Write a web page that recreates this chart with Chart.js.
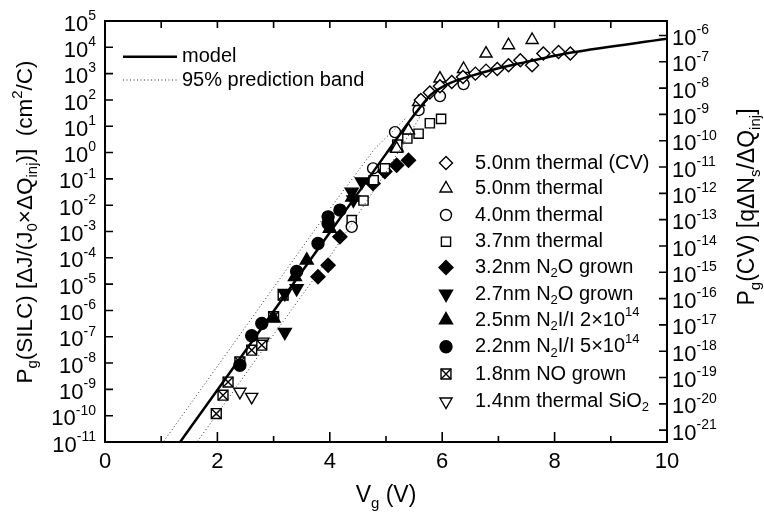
<!DOCTYPE html>
<html>
<head>
<meta charset="utf-8">
<script src="https://cdn.jsdelivr.net/npm/chart.js@4.4.1/dist/chart.umd.min.js"></script>
<style>
  html, body { margin: 0; padding: 0; background: #fff; }
</style>
</head>
<body>
<canvas id="myChart" width="764" height="515"></canvas>
<script>
// model line and 95% prediction band (Vg in V, Pg in cm2/C)
var modelV = [1.2, 2, 3, 4, 5, 5.4, 5.6, 5.8, 6.1, 6.5, 7, 7.5, 8, 8.3, 10];
var modelP = [3.9e-12, 9.5e-10, 9.3e-7, 9.1e-4, 0.89, 14, 50, 160, 400, 800, 1600, 2800, 4800, 6300, 21000];
var bandHiV = [0.9, 2, 3, 4, 4.8, 5.35];
var bandHiP = [3.9e-12, 7.6e-9, 7.4e-6, 7.2e-3, 1.4, 20];
var bandLoV = [1.5, 2, 3, 4, 5, 5.6];
var bandLoP = [3.9e-12, 1.2e-10, 1.2e-7, 1.1e-4, 0.18, 22];

// measured points
var cv50V = [5.62, 5.78, 5.96, 6.17, 6.37, 6.59, 6.78, 6.98, 7.18, 7.39, 7.60, 7.80, 8.07, 8.28];
var cv50P = [100, 190, 330, 480, 740, 1000, 1300, 1500, 2100, 3200, 2100, 5800, 6600, 5800];
var th50V = [5.19, 5.40, 5.58, 5.96, 6.38, 6.78, 7.18, 7.60];
var th50P = [1.4, 7, 83, 650, 1500, 5800, 12000, 19000];
var th40V = [4.39, 4.77, 5.16, 5.58, 5.96, 6.38];
var th40P = [1.5e-3, 0.25, 6, 41, 140, 400];
var th37V = [4.39, 4.60, 4.78, 4.98, 5.20, 5.38, 5.58, 5.78, 5.98];
var th37P = [2.7e-3, 1.5e-2, 8.9e-2, 0.25, 2.0, 3.4, 5.2, 13, 19];
var n2o32V = [3.79, 3.97, 4.18, 4.77, 4.98, 5.19, 5.40];
var n2o32P = [1.9e-5, 5.2e-5, 6.3e-4, 6.6e-2, 0.19, 0.33, 0.51];
var n2o27V = [3.20, 3.20, 3.41, 4.39, 4.42, 4.57];
var n2o27P = [1.5e-7, 4.5e-6, 6.9e-6, 3.2e-2, 1.6e-2, 7.8e-2];
var ni25V = [3.0, 3.38, 3.59, 4.0, 4.4, 5.19];
var ni25P = [5e-7, 1.9e-5, 8e-5, 1.3e-3, 2e-2, 1.6];
var ni22V = [2.40, 2.61, 2.79, 3.41, 3.79, 3.97, 3.97, 4.18];
var ni22P = [8.3e-9, 1.1e-7, 3.2e-7, 3.0e-5, 3.5e-4, 3.6e-3, 2.0e-3, 6.5e-3];
var no18V = [1.98, 2.10, 2.19, 2.40, 2.61, 2.79, 3.00, 3.17];
var no18P = [1.2e-10, 6.0e-10, 1.9e-9, 1.1e-8, 3.1e-8, 4.8e-8, 5.8e-7, 3.8e-6];
var sio14V = [2.40, 2.61, 2.81];
var sio14P = [8.1e-10, 5.2e-10, 6.5e-8];

var xLabels = [0, 2, 4, 6, 8, 10];
var leftExps = [5, 4, 3, 2, 1, 0, -1, -2, -3, -4, -5, -6, -7, -8, -9, -10, -11];
var rightExps = [-6, -7, -8, -9, -10, -11, -12, -13, -14, -15, -16, -17, -18, -19, -20, -21];

function pts(vs, ps) {
    return vs.map(function (v, i) { return { x: v, y: ps[i] }; });
}

var FONT = '"Liberation Sans", Arial, Helvetica, sans-serif';

function marker(style, r, fill, rot) {
    return {
        type: 'scatter', showLine: false, pointStyle: style, pointRadius: r,
        pointRotation: rot || 0, backgroundColor: fill ? '#000' : '#fff',
        borderColor: '#000', borderWidth: 1.4
    };
}

var series = [
    Object.assign(marker('rectRot', 6.5, false), { label: [['5.0nm thermal (CV)', '']], data: pts(cv50V, cv50P) }),
    Object.assign(marker('triangle', 7, false), { label: [['5.0nm thermal', '']], data: pts(th50V, th50P) }),
    Object.assign(marker('circle', 5.5, false), { label: [['4.0nm thermal', '']], data: pts(th40V, th40P) }),
    Object.assign(marker('rect', 6.5, false), { label: [['3.7nm thermal', '']], data: pts(th37V, th37P) }),
    Object.assign(marker('rectRot', 7, true), { label: [['3.2nm N', ''], ['2', 'sub'], ['O grown', '']], data: pts(n2o32V, n2o32P) }),
    Object.assign(marker('triangle', 7.5, true, 180), { label: [['2.7nm N', ''], ['2', 'sub'], ['O grown', '']], data: pts(n2o27V, n2o27P) }),
    Object.assign(marker('triangle', 7.5, true), { label: [['2.5nm N', ''], ['2', 'sub'], ['I/I 2\u00d710', ''], ['14', 'sup']], data: pts(ni25V, ni25P) }),
    Object.assign(marker('circle', 6, true), { label: [['2.2nm N', ''], ['2', 'sub'], ['I/I 5\u00d710', ''], ['14', 'sup']], data: pts(ni22V, ni22P) }),
    Object.assign(marker('rect', 7, false), { label: [['1.8nm NO grown', '']], data: pts(no18V, no18P), cross: true }),
    Object.assign(marker('triangle', 7, false, 180), { label: [['1.4nm thermal SiO', ''], ['2', 'sub']], data: pts(sio14V, sio14P) })
];
var legendRowsY = [163, 188.5, 215, 241.7, 267.5, 294, 320, 346.7, 374, 401.5];

// the X inside the 1.8nm squares
var crossSet = Object.assign(marker('crossRot', 7, false), { data: pts(no18V, no18P) });

var lines = [
    { type: 'line', data: pts(modelV, modelP), borderColor: '#000', borderWidth: 2.5, pointRadius: 0, cubicInterpolationMode: 'monotone', fill: false },
    { type: 'line', data: pts(bandHiV, bandHiP), borderColor: '#333', borderWidth: 1, borderDash: [1, 2.5], pointRadius: 0, fill: false },
    { type: 'line', data: pts(bandLoV, bandLoP), borderColor: '#333', borderWidth: 1, borderDash: [1, 2.5], pointRadius: 0, fill: false }
];

function partFont(p, size) {
    return (p[1] ? Math.round(size * 0.65) : size) + 'px ' + FONT;
}
function drawRich(ctx, parts, x, y, size, align) {
    var w = 0;
    parts.forEach(function (p) { ctx.font = partFont(p, size); w += ctx.measureText(p[0]).width; });
    var cx = align === 'center' ? x - w / 2 : (align === 'right' ? x - w : x);
    ctx.textAlign = 'left';
    ctx.textBaseline = 'middle';
    parts.forEach(function (p) {
        ctx.font = partFont(p, size);
        var dy = p[1] === 'sub' ? size * 0.32 : (p[1] === 'sup' ? -size * 0.38 : 0);
        ctx.fillText(p[0], cx, y + dy);
        cx += ctx.measureText(p[0]).width;
    });
}

var decor = {
    id: 'decor',
    afterDraw: function (chart) {
        var ctx = chart.ctx, a = chart.chartArea;
        var sx = chart.scales.x, sy = chart.scales.y, sy2 = chart.scales.y2;
        ctx.save();
        ctx.fillStyle = '#000';
        ctx.strokeStyle = '#000';
        // frame
        ctx.lineWidth = 2;
        ctx.strokeRect(a.left, a.top, a.right - a.left, a.bottom - a.top);
        // ticks
        ctx.lineWidth = 1.6;
        ctx.beginPath();
        for (var v = 1; v < 10; v++) {
            var px = sx.getPixelForValue(v);
            ctx.moveTo(px, a.bottom); ctx.lineTo(px, a.bottom - (v % 2 === 0 ? 10 : 6));
            ctx.moveTo(px, a.top); ctx.lineTo(px, a.top + 7);
        }
        leftExps.forEach(function (e) {
            var py = sy.getPixelForValue(Math.pow(10, e));
            ctx.moveTo(a.left, py); ctx.lineTo(a.left + 8, py);
        });
        rightExps.forEach(function (e) {
            var py = sy2.getPixelForValue(Math.pow(10, e));
            ctx.moveTo(a.right, py); ctx.lineTo(a.right - 8, py);
        });
        ctx.stroke();
        // tick labels
        ctx.font = '22px ' + FONT;
        ctx.textAlign = 'center';
        ctx.textBaseline = 'middle';
        xLabels.forEach(function (v) {
            ctx.fillText(String(v), sx.getPixelForValue(v), a.bottom + 20);
        });
        leftExps.forEach(function (e) {
            var py = sy.getPixelForValue(Math.pow(10, e));
            ctx.font = '14px ' + FONT;
            var ew = ctx.measureText(String(e)).width;
            ctx.textAlign = 'right';
            ctx.fillText(String(e), a.left - 9, py - 5);
            ctx.font = '22px ' + FONT;
            ctx.fillText('10', a.left - 9 - ew, py + 3.5);
        });
        rightExps.forEach(function (e) {
            var py = sy2.getPixelForValue(Math.pow(10, e));
            ctx.font = '22px ' + FONT;
            ctx.textAlign = 'left';
            var w = ctx.measureText('10').width;
            ctx.fillText('10', a.right + 5, py + 3.5);
            ctx.font = '14px ' + FONT;
            ctx.fillText(String(e), a.right + 5 + w, py - 5);
        });
        // axis titles
        drawRich(ctx, [['V', ''], ['g', 'sub'], [' (V)', '']], (a.left + a.right) / 2, 496, 23, 'center');
        ctx.save();
        ctx.translate(26, 222);
        ctx.rotate(-Math.PI / 2);
        drawRich(ctx, [['P', ''], ['g', 'sub'], ['(SILC) [\u0394J/(J', ''], ['0', 'sub'], ['\u00d7\u0394Q', ''], ['inj', 'sub'], [')]  (cm', ''], ['2', 'sup'], ['/C)', '']], 0, 0, 22.5, 'center');
        ctx.restore();
        ctx.save();
        ctx.translate(748, 207);
        ctx.rotate(-Math.PI / 2);
        drawRich(ctx, [['P', ''], ['g', 'sub'], ['(CV) [q\u0394N', ''], ['s', 'sub'], ['/\u0394Q', ''], ['inj', 'sub'], [']', '']], 0, 0, 23, 'center');
        ctx.restore();
        // upper-left legend
        ctx.lineWidth = 2.5;
        ctx.setLineDash([]);
        ctx.beginPath(); ctx.moveTo(123, 56.7); ctx.lineTo(177, 56.7); ctx.stroke();
        ctx.lineWidth = 1;
        ctx.strokeStyle = '#333';
        ctx.setLineDash([1, 2.5]);
        ctx.beginPath(); ctx.moveTo(123, 80); ctx.lineTo(177, 80); ctx.stroke();
        ctx.setLineDash([]);
        ctx.strokeStyle = '#000';
        drawRich(ctx, [['model', '']], 182, 56.7, 20, 'left');
        drawRich(ctx, [['95% prediction band', '']], 182, 80, 20, 'left');
        // symbol legend
        series.forEach(function (s, i) {
            var y = legendRowsY[i];
            ctx.fillStyle = s.backgroundColor;
            ctx.strokeStyle = s.borderColor;
            ctx.lineWidth = s.borderWidth;
            Chart.helpers.drawPoint(ctx, { pointStyle: s.pointStyle, radius: s.pointRadius, rotation: s.pointRotation, borderWidth: s.borderWidth }, 446, y);
            if (s.cross) {
                Chart.helpers.drawPoint(ctx, { pointStyle: 'crossRot', radius: s.pointRadius, rotation: 0, borderWidth: s.borderWidth }, 446, y);
            }
            ctx.fillStyle = '#000';
            drawRich(ctx, s.label, 475, y, 20, 'left');
        });
        ctx.restore();
    }
};

new Chart('myChart', {
    data: { datasets: lines.concat([crossSet], series) },
    options: {
        responsive: false,
        animation: false,
        events: [],
        layout: { padding: { top: 21, left: 0, right: 0, bottom: 0 } },
        plugins: { legend: { display: false }, tooltip: { enabled: false } },
        scales: {
            x: {
                type: 'linear', position: 'bottom', min: 0, max: 10,
                grid: { display: false }, border: { display: false }, ticks: { display: false },
                afterFit: function (s) { s.height = 73; }
            },
            y: {
                type: 'logarithmic', position: 'left', min: 1e-11, max: 1e5, bounds: 'data',
                grid: { display: false }, border: { display: false }, ticks: { display: false },
                afterFit: function (s) { s.width = 105; }
            },
            y2: {
                type: 'logarithmic', position: 'right', min: Math.pow(10, -21.45), max: Math.pow(10, -5.45), bounds: 'data',
                grid: { display: false }, border: { display: false }, ticks: { display: false },
                afterFit: function (s) { s.width = 97; }
            }
        }
    },
    plugins: [decor]
});
</script>
</body>
</html>
